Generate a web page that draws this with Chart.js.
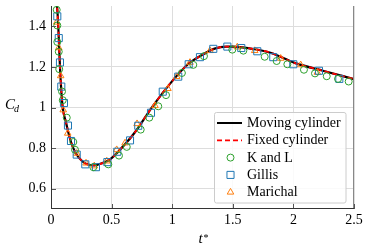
<!DOCTYPE html>
<html>
<head>
<meta charset="utf-8">
<script src="https://cdn.jsdelivr.net/npm/chart.js@4/dist/chart.umd.min.js"></script>
<style>
  html, body { margin: 0; padding: 0; background: #fff; }
</style>
</head>
<body>
<canvas id="cdChart" width="368" height="248"></canvas>
<script>
// drag coefficient history
const curveT = [0.045, 0.05, 0.06, 0.074, 0.093, 0.124, 0.165, 0.2, 0.26, 0.3, 0.355, 0.42, 0.487, 0.55, 0.68, 0.84, 1.0, 1.13, 1.23, 1.35, 1.45, 1.5, 1.65, 1.81, 2.01, 2.25, 2.5];
const movingC = [1.53, 1.5, 1.4, 1.2, 1.02, 0.926, 0.83, 0.78, 0.734, 0.72, 0.715, 0.725, 0.744, 0.78, 0.868, 1.007, 1.13, 1.213, 1.253, 1.29, 1.3, 1.3, 1.29, 1.27, 1.22, 1.18, 1.14];
const fixedC = [1.53, 1.5, 1.4, 1.2, 1.02, 0.926, 0.83, 0.78, 0.734, 0.72, 0.715, 0.725, 0.744, 0.78, 0.868, 1.007, 1.13, 1.213, 1.253, 1.29, 1.3, 1.3, 1.29, 1.27, 1.22, 1.18, 1.14];

const klT = [0.047, 0.052, 0.052, 0.064, 0.068, 0.091, 0.097, 0.13, 0.184, 0.198, 0.349, 0.473, 0.561, 0.625, 0.74, 0.811, 0.885, 0.949, 1.08, 1.174, 1.262, 1.496, 1.587, 1.763, 1.862, 1.95, 2.087, 2.178, 2.275, 2.368, 2.456];
const klC = [1.481, 1.404, 1.323, 1.275, 1.189, 1.079, 1.036, 0.95, 0.83, 0.792, 0.706, 0.72, 0.763, 0.806, 0.891, 0.95, 1.006, 1.061, 1.17, 1.21, 1.253, 1.285, 1.28, 1.25, 1.229, 1.213, 1.186, 1.168, 1.154, 1.141, 1.128];

const gillisT = [0.052, 0.064, 0.074, 0.085, 0.107, 0.14, 0.165, 0.212, 0.283, 0.371, 0.465, 0.547, 0.652, 0.72, 0.825, 0.922, 1.05, 1.136, 1.229, 1.339, 1.455, 1.57, 1.702, 1.834, 1.999, 2.211, 2.379];
const gillisC = [1.449, 1.342, 1.222, 1.103, 1.022, 0.911, 0.835, 0.768, 0.72, 0.706, 0.731, 0.782, 0.838, 0.91, 0.974, 1.078, 1.152, 1.213, 1.248, 1.289, 1.3, 1.293, 1.277, 1.248, 1.213, 1.181, 1.141];

const marichalT = [0.047, 0.064, 0.08, 0.101, 0.138, 0.212, 0.289, 0.357, 0.46, 0.542, 0.611, 0.71, 0.858, 0.965, 1.037, 1.147, 1.312, 1.537, 1.681, 1.895, 2.06, 2.197];
const marichalC = [1.42, 1.294, 1.156, 0.988, 0.873, 0.774, 0.726, 0.712, 0.736, 0.792, 0.825, 0.92, 1.009, 1.093, 1.152, 1.222, 1.28, 1.298, 1.28, 1.242, 1.21, 1.173];

const xTicks = [0, 0.5, 1, 1.5, 2, 2.5];
const yTicks = [0.6, 0.8, 1, 1.2, 1.4];

const serif = "'Liberation Serif', 'DejaVu Serif', serif";
const pts = (xs, ys) => xs.map((x, i) => ({ x: x, y: ys[i] }));
const fmt = (v) => String(+Number(v).toFixed(2));

const legendItems = [
  { text: "Moving cylinder", kind: "line", color: "#000000", width: 2, dash: [] },
  { text: "Fixed cylinder", kind: "line", color: "#ff0000", width: 1.8, dash: [5, 3] },
  { text: "K and L", kind: "point", style: "circle", color: "#2ca02c", radius: 3.5 },
  { text: "Gillis", kind: "point", style: "rect", color: "#1f77b4", radius: 5 },
  { text: "Marichal", kind: "point", style: "triangle", color: "#ff7f0e", radius: 3.8 }
];

const decorPlugin = {
  id: "decor",
  afterDraw(chart) {
    const ctx = chart.ctx;
    const a = chart.chartArea;
    const xs = chart.scales.x;
    const ys = chart.scales.y;
    ctx.save();

    // inward tick marks
    ctx.strokeStyle = "#555";
    ctx.lineWidth = 1;
    xTicks.forEach((v) => {
      const px = Math.round(xs.getPixelForValue(v)) + 0.5;
      ctx.beginPath();
      ctx.moveTo(px, a.bottom);
      ctx.lineTo(px, a.bottom - 5);
      ctx.stroke();
    });
    yTicks.forEach((v) => {
      const py = Math.round(ys.getPixelForValue(v)) + 0.5;
      ctx.beginPath();
      ctx.moveTo(a.left, py);
      ctx.lineTo(a.left + 5, py);
      ctx.stroke();
    });

    // frame
    ctx.strokeStyle = "#888";
    ctx.beginPath();
    ctx.moveTo(a.right - 0.5, a.top);
    ctx.lineTo(a.right - 0.5, a.bottom);
    ctx.stroke();
    ctx.strokeStyle = "#333";
    ctx.beginPath();
    ctx.moveTo(a.left + 0.5, a.top);
    ctx.lineTo(a.left + 0.5, a.bottom - 0.5);
    ctx.lineTo(a.right, a.bottom - 0.5);
    ctx.stroke();

    // axis titles
    ctx.fillStyle = "#000";
    ctx.textBaseline = "alphabetic";
    ctx.textAlign = "left";
    ctx.font = "italic 15px " + serif;
    ctx.fillText("C", 5, 109);
    ctx.font = "italic 10px " + serif;
    ctx.fillText("d", 14, 112);
    ctx.font = "italic 15px " + serif;
    const midX = (a.left + a.right) / 2;
    ctx.fillText("t", midX - 4, 243);
    ctx.font = "10px " + serif;
    ctx.fillText("*", midX + 1, 241);

    // legend
    const bx = 214.5, by = 112.5, bw = 131.5, bh = 90.5;
    ctx.fillStyle = "rgba(255,255,255,0.85)";
    ctx.strokeStyle = "#cccccc";
    ctx.lineWidth = 1;
    ctx.beginPath();
    ctx.roundRect(bx, by, bw, bh, 2);
    ctx.fill();
    ctx.stroke();

    ctx.font = "14px " + serif;
    legendItems.forEach((it, i) => {
      const base = 127 + i * 17.3;
      const my = base - 4;
      if (it.kind === "line") {
        ctx.strokeStyle = it.color;
        ctx.lineWidth = it.width;
        ctx.setLineDash(it.dash);
        ctx.beginPath();
        ctx.moveTo(217, my);
        ctx.lineTo(242, my);
        ctx.stroke();
        ctx.setLineDash([]);
      } else {
        ctx.strokeStyle = it.color;
        ctx.fillStyle = "rgba(0,0,0,0)";
        ctx.lineWidth = 1;
        Chart.helpers.drawPoint(ctx, { pointStyle: it.style, radius: it.radius, borderWidth: 1 }, 230.5, my);
      }
      ctx.fillStyle = "#000";
      ctx.fillText(it.text, 247, base);
    });

    ctx.restore();
  }
};

const cdCanvas = document.getElementById("cdChart");

new Chart(cdCanvas.getContext("2d"), {
  type: "scatter",
  data: {
    datasets: [
      {
        label: "K and L",
        data: pts(klT, klC),
        pointStyle: "circle",
        pointRadius: 3.5,
        borderColor: "#2ca02c",
        backgroundColor: "rgba(0,0,0,0)",
        borderWidth: 1,
        order: 0
      },
      {
        label: "Gillis",
        data: pts(gillisT, gillisC),
        pointStyle: "rect",
        pointRadius: 5,
        borderColor: "#1f77b4",
        backgroundColor: "rgba(0,0,0,0)",
        borderWidth: 1,
        order: 1
      },
      {
        label: "Marichal",
        data: pts(marichalT, marichalC),
        pointStyle: "triangle",
        pointRadius: 3.8,
        borderColor: "#ff7f0e",
        backgroundColor: "rgba(0,0,0,0)",
        borderWidth: 1,
        order: 2
      },
      {
        label: "Fixed cylinder",
        data: pts(curveT, fixedC),
        showLine: true,
        pointRadius: 0,
        borderColor: "#ff0000",
        borderWidth: 1.8,
        borderDash: [5, 3],
        cubicInterpolationMode: "monotone",
        order: 3
      },
      {
        label: "Moving cylinder",
        data: pts(curveT, movingC),
        showLine: true,
        pointRadius: 0,
        borderColor: "#000000",
        borderWidth: 2.2,
        cubicInterpolationMode: "monotone",
        order: 4
      }
    ]
  },
  options: {
    responsive: false,
    animation: false,
    layout: { padding: { top: 0, right: 14, left: 0, bottom: 0 } },
    plugins: {
      legend: { display: false },
      tooltip: { enabled: false }
    },
    scales: {
      x: {
        type: "linear",
        min: 0,
        max: 2.5,
        afterBuildTicks: (s) => { s.ticks = xTicks.map((v) => ({ value: v })); },
        afterFit: (s) => { s.height = 39; s.paddingLeft = 0; s.paddingRight = 0; },
        ticks: {
          color: "#000",
          padding: 3,
          maxRotation: 0,
          font: { family: serif, size: 14 },
          callback: fmt
        },
        grid: { color: "#dddddd", drawTicks: false },
        border: { display: false }
      },
      y: {
        type: "linear",
        min: 0.5,
        max: 1.5,
        afterBuildTicks: (s) => { s.ticks = yTicks.map((v) => ({ value: v })); },
        afterFit: (s) => { s.width = 51; s.paddingTop = 0; s.paddingBottom = 0; },
        ticks: {
          color: "#000",
          padding: 5,
          font: { family: serif, size: 14 },
          callback: fmt
        },
        grid: { color: "#dddddd", drawTicks: false },
        border: { display: false }
      }
    }
  },
  plugins: [decorPlugin]
});
</script>
</body>
</html>
